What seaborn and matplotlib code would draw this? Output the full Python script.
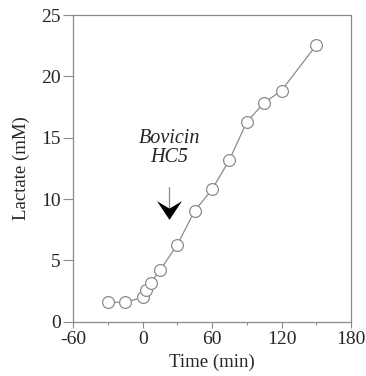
import numpy as np
import pandas as pd
import seaborn as sns
import matplotlib.pyplot as plt
from matplotlib.path import Path

time_min = [-30, -15, 0, 3, 7, 15, 30, 45, 60, 75, 90, 105, 120, 150]
lactate_mM = [1.6, 1.6, 2.0, 2.6, 3.2, 4.2, 6.3, 9.05, 10.8, 13.2, 16.3, 17.85, 18.85, 22.55]

x_ticks = [-60, 0, 60, 120, 180]
x_minor = [-30, 30, 90, 150]
y_ticks = [0, 5, 10, 15, 20, 25]

arrow_x = 23
arrow_tail = 11.0
arrow_head_y = 9.15
label_text = "Bovicin\nHC5"

df = pd.DataFrame({"time": time_min, "lactate": lactate_mM})

sns.set_style("ticks")
plt.rcParams["font.family"] = ["Liberation Serif", "DejaVu Serif"]
plt.rcParams["axes.unicode_minus"] = False

fig = plt.figure(figsize=(3.66, 3.76), dpi=100)
ax = fig.add_axes([0.2, 0.144, 0.759, 0.816])

sns.lineplot(data=df, x="time", y="lactate", ax=ax, color="#8c8c8c", linewidth=0.9,
             marker="o", markersize=8.5, markerfacecolor="white",
             markeredgecolor="#8c8c8c", markeredgewidth=0.9)

# arrow: thin shaft + chevron head
ax.plot([arrow_x, arrow_x], [arrow_tail, arrow_head_y], color="#8c8c8c", linewidth=0.9)
chevron = Path([(0, -0.75), (-1, 0.75), (0, 0.15), (1, 0.75), (0, -0.75)],
               [Path.MOVETO, Path.LINETO, Path.LINETO, Path.LINETO, Path.CLOSEPOLY])
ax.plot([arrow_x], [arrow_head_y], marker=chevron, markersize=18, color="black",
        markeredgewidth=0)
ax.text(arrow_x, 14.2, label_text, ha="center", va="center", fontsize=14.5,
        style="italic", linespacing=1.0)

ax.set_xlim(-60, 180)
ax.set_ylim(0, 25)
ax.set_xticks(x_ticks)
ax.set_xticks(x_minor, minor=True)
ax.set_yticks(y_ticks)
ax.tick_params(axis="both", which="both", direction="out", color="#8c8c8c",
               labelsize=14, width=0.8)
ax.tick_params(axis="x", which="major", length=4.5, pad=2)
ax.tick_params(axis="x", which="minor", length=2.5)
ax.tick_params(axis="y", which="major", length=7, pad=2)
for s in ax.spines.values():
    s.set_color("#8c8c8c")
    s.set_linewidth(0.9)

ax.set_xlabel("Time (min)", fontsize=13.5, labelpad=4)
ax.set_ylabel("Lactate (mM)", fontsize=13.5, labelpad=8)

fig.savefig("out.png", dpi=100)
